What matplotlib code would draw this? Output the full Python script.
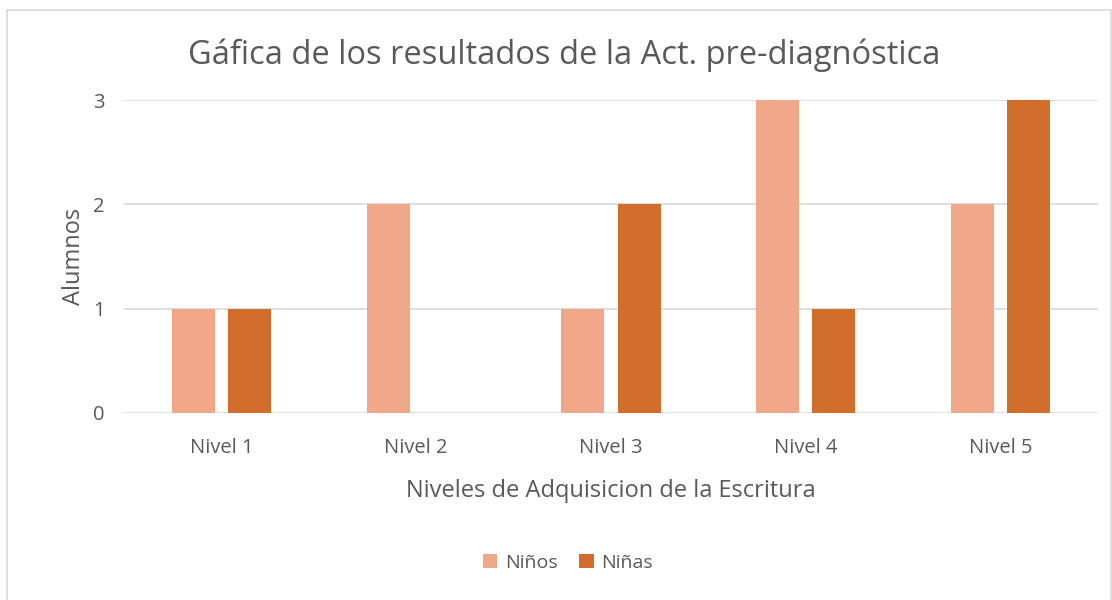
import matplotlib.pyplot as plt
import numpy as np
from matplotlib.patches import Rectangle

plt.rcParams['font.family'] = ['Open Sans', 'DejaVu Sans']

categories = ["Nivel 1", "Nivel 2", "Nivel 3", "Nivel 4", "Nivel 5"]
ninos = [1, 2, 1, 3, 2]
ninas = [1, 0, 2, 1, 3]
series_names = ["Niños", "Niñas"]
colors = ["#F1A78A", "#D26E2B"]
text_color = "#595959"
grid_color = "#D9D9D9"

fig = plt.figure(figsize=(11.12, 6.0), dpi=100)
ax = fig.add_axes([124 / 1112, 1 - 413 / 600, (1098 - 124) / 1112, (413 - 100) / 600])

x = np.arange(len(categories))
w = 0.221
off = 0.144
ax.bar(x - off, ninos, width=w, color=colors[0], label=series_names[0], zorder=3)
ax.bar(x + off, ninas, width=w, color=colors[1], label=series_names[1], zorder=3)

ax.set_xlim(-0.5, len(categories) - 0.5)
ax.set_ylim(0, 3)
ax.set_yticks([0, 1, 2, 3])
ax.set_xticks(x)
ax.set_xticklabels(categories)
ax.grid(True, axis='y', color=grid_color, linewidth=1.2, zorder=0)
for s in ax.spines.values():
    s.set_visible(False)
ax.tick_params(axis='both', length=0, labelsize=14.5, colors=text_color)
ax.tick_params(axis='y', pad=14)
ax.tick_params(axis='x', pad=18)

ax.set_ylabel("Alumnos", fontsize=17, color=text_color, labelpad=5)
ax.set_xlabel("Niveles de Adquisicion de la Escritura", fontsize=17, color=text_color, labelpad=15)

fig.text(564 / 1112, 1 - 55 / 600, "Gáfica de los resultados de la Act. pre-diagnóstica",
         ha='center', va='center', fontsize=23.5, color=text_color)

fig.legend(loc='center', bbox_to_anchor=(568 / 1112, 1 - 563 / 600), ncol=2, frameon=False,
           fontsize=14, labelcolor=text_color, handlelength=0.75, handleheight=0.75,
           handletextpad=0.4, columnspacing=1.1)

fig.patches.append(Rectangle((7 / 1112, -0.1), (1112 - 7 - 1) / 1112, 1 - 9.5 / 600 + 0.1,
                             transform=fig.transFigure, fill=False, edgecolor=grid_color,
                             linewidth=1.2))

fig.savefig("out.png", dpi=100, facecolor="white")
